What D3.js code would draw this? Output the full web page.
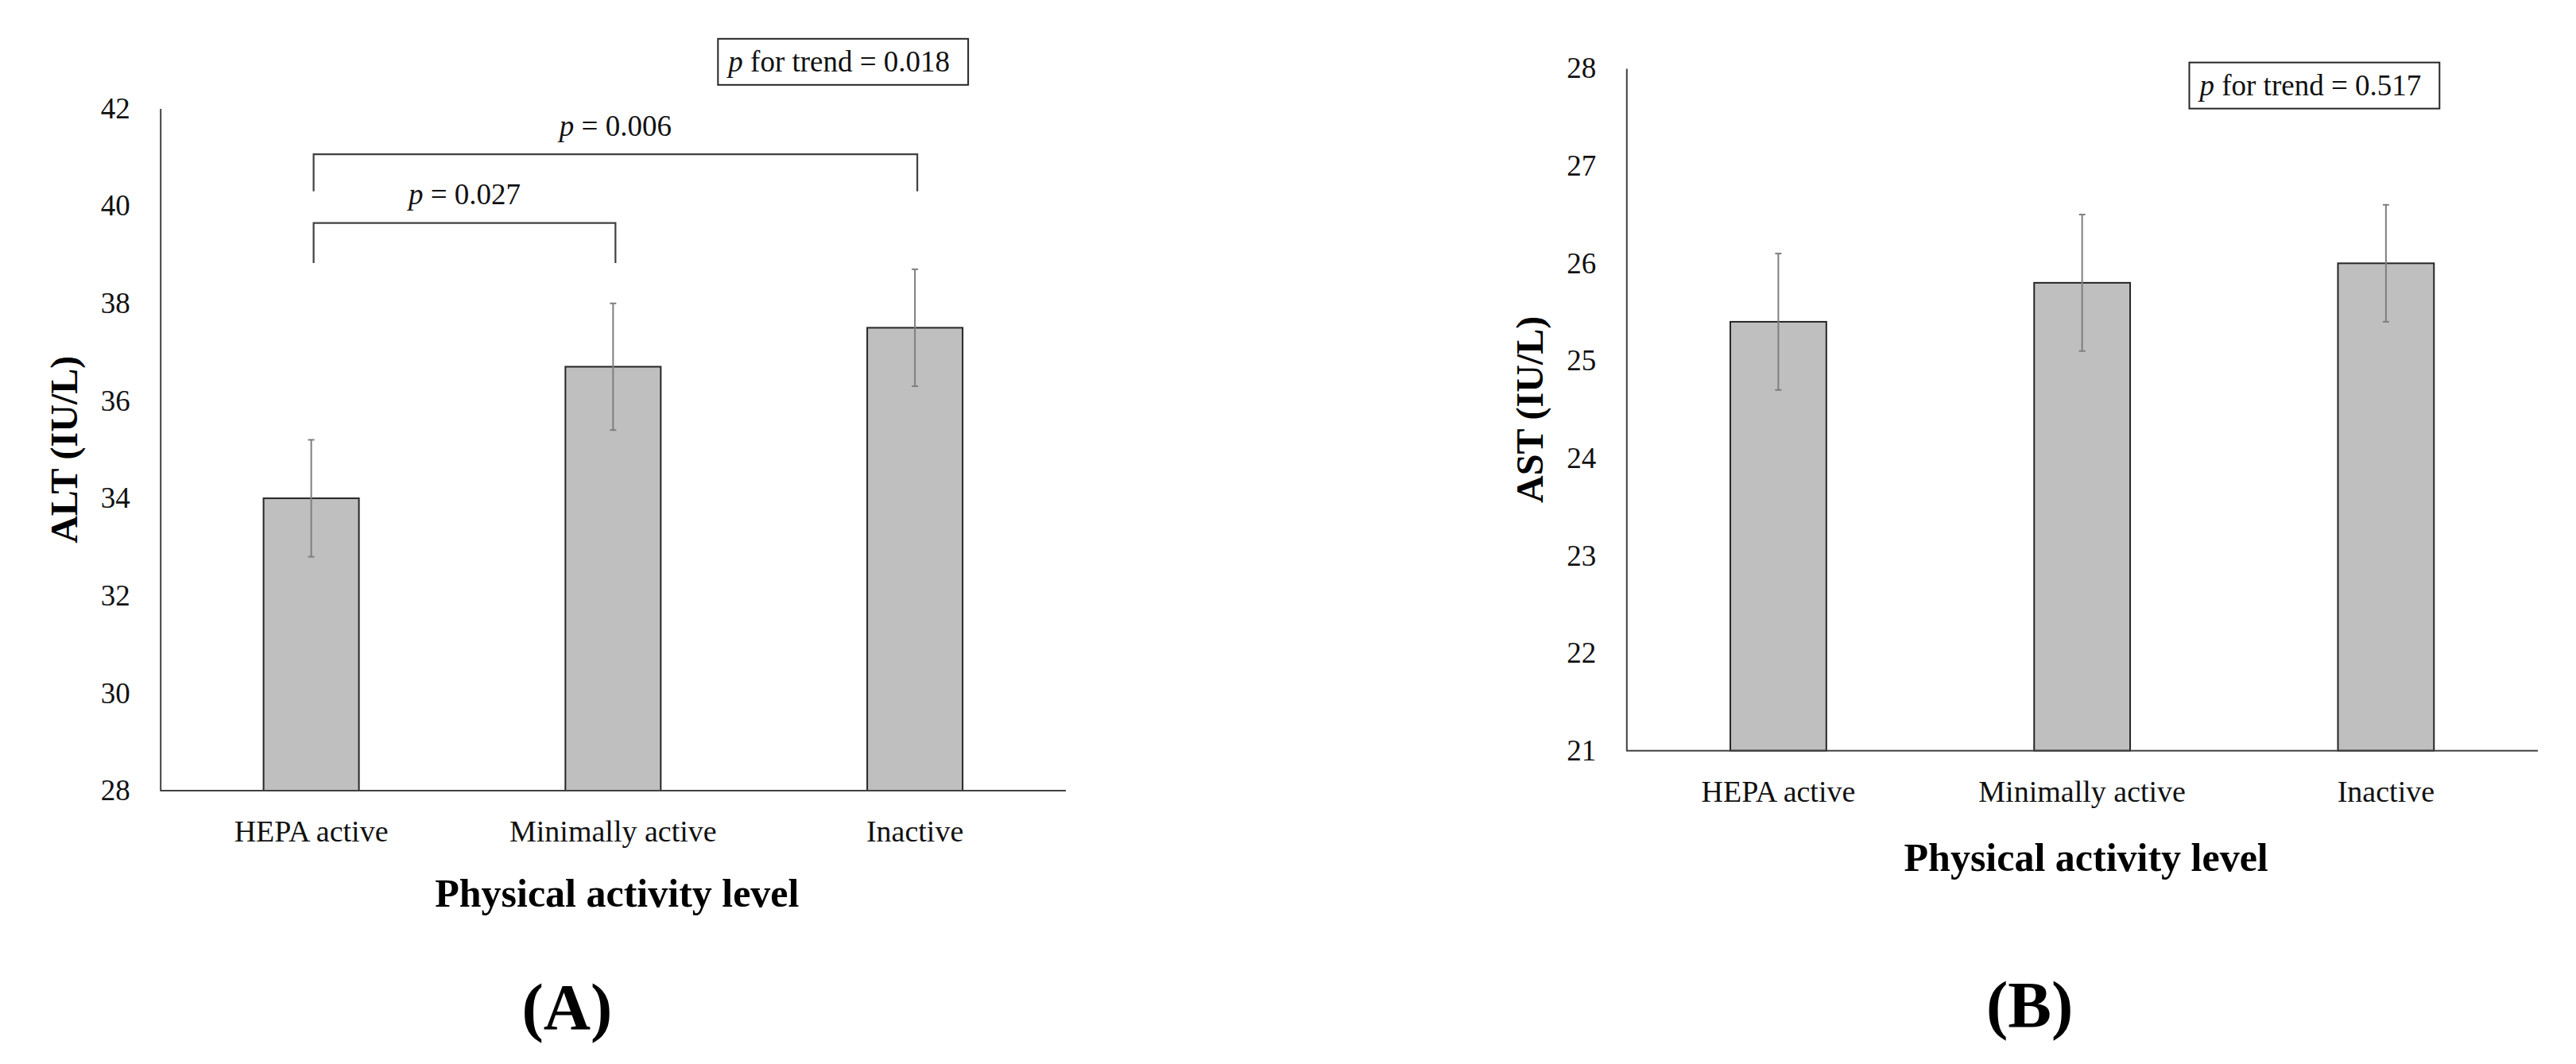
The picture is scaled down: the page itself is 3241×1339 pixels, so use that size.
<!DOCTYPE html>
<html>
<head>
<meta charset="utf-8">
<script src="https://cdn.jsdelivr.net/npm/d3@7"></script>
<style>
  body { margin: 0; background: #fff; }
  text { font-family: "Liberation Serif", "Times New Roman", serif; }
</style>
</head>
<body>
<svg id="chart"></svg>
<script>
"use strict";

// data
var categories = ["HEPA active", "Minimally active", "Inactive"];

var altMean = [34.0, 36.7, 37.5];
var altErr  = [1.2, 1.3, 1.2];
var altTicks = [28, 30, 32, 34, 36, 38, 40, 42];

var astMean = [25.4, 25.8, 26.0];
var astErr  = [0.7, 0.7, 0.6];
var astTicks = [21, 22, 23, 24, 25, 26, 27, 28];

// pairwise comparisons shown on panel A
var altPairs = [
  { from: 0, to: 1, level: 39.65, drop: 38.83, label: "= 0.027", labelAt: 40.03 },
  { from: 0, to: 2, level: 41.06, drop: 40.30, label: "= 0.006", labelAt: 41.43 }
];

var altTrend = "for trend = 0.018";
var astTrend = "for trend = 0.517";

var W = 3241, H = 1339;

var svg = d3.select("#chart")
    .attr("width", W)
    .attr("height", H)
    .attr("viewBox", [0, 0, W, H]);

svg.append("rect").attr("width", W).attr("height", H).attr("fill", "#fff");

function Panel(opts) {
  var g = svg.append("g");

  var x = d3.scaleBand()
      .domain(categories)
      .range([opts.left, opts.right])
      .paddingInner(0.684)
      .paddingOuter(0.342);

  var y = d3.scaleLinear()
      .domain(d3.extent(opts.ticks))
      .range([opts.bottom, opts.top]);

  var rows = categories.map(function(c, i) {
    return { cat: c, mean: opts.mean[i], err: opts.err[i] };
  });

  // bars
  g.selectAll("rect.bar")
    .data(rows)
    .join("rect")
      .attr("class", "bar")
      .attr("x", d => x(d.cat))
      .attr("width", x.bandwidth())
      .attr("y", d => y(d.mean))
      .attr("height", d => y(opts.ticks[0]) - y(d.mean))
      .attr("fill", "#bfbfbf")
      .attr("stroke", "#262626")
      .attr("stroke-width", 2);

  // error bars
  var eb = g.selectAll("g.err")
    .data(rows)
    .join("g")
      .attr("class", "err")
      .attr("stroke", "#7f7f7f")
      .attr("stroke-width", 2)
      .attr("transform", d => `translate(${x(d.cat) + x.bandwidth() / 2},0)`);
  eb.append("line")
      .attr("y1", d => y(d.mean - d.err))
      .attr("y2", d => y(d.mean + d.err));
  eb.append("line")
      .attr("x1", -4).attr("x2", 4)
      .attr("y1", d => y(d.mean + d.err))
      .attr("y2", d => y(d.mean + d.err));
  eb.append("line")
      .attr("x1", -4).attr("x2", 4)
      .attr("y1", d => y(d.mean - d.err))
      .attr("y2", d => y(d.mean - d.err));

  // axes
  var yAxis = g.append("g")
      .attr("transform", `translate(${opts.left},0)`)
      .call(d3.axisLeft(y).tickValues(opts.ticks).tickFormat(d3.format("d"))
        .tickSize(0).tickPadding(38));
  yAxis.select(".domain").attr("stroke", "#404040").attr("stroke-width", 2);
  yAxis.selectAll("text")
      .attr("font-size", 37)
      .attr("fill", "#111")
      .attr("dy", "0.32em")
      .style("font-family", "'Liberation Serif', serif");

  var xAxis = g.append("g")
      .attr("transform", `translate(0,${opts.bottom})`)
      .call(d3.axisBottom(x).tickSize(0).tickPadding(0));
  xAxis.select(".domain")
      .attr("d", `M${opts.left},0H${opts.right}`)
      .attr("stroke", "#404040").attr("stroke-width", 2);
  xAxis.selectAll("text")
      .attr("font-size", 38)
      .attr("fill", "#111")
      .attr("y", 64)
      .attr("dy", 0)
      .style("font-family", "'Liberation Serif', serif");

  // axis titles
  g.append("text")
      .attr("transform", `translate(${opts.left - 105},${(opts.top + opts.bottom) / 2}) rotate(-90)`)
      .attr("text-anchor", "middle")
      .attr("font-size", 48)
      .attr("font-weight", "bold")
      .text(opts.yTitle);

  g.append("text")
      .attr("x", (opts.left + opts.right) / 2 + 5)
      .attr("y", opts.bottom + opts.titleGap)
      .attr("text-anchor", "middle")
      .attr("font-size", 50)
      .attr("font-weight", "bold")
      .text("Physical activity level");

  g.append("text")
      .attr("x", (opts.left + opts.right) / 2 + opts.tagShift)
      .attr("y", opts.tagY)
      .attr("text-anchor", "middle")
      .attr("font-size", 82)
      .attr("font-weight", "bold")
      .text(opts.tag);

  // comparison brackets
  var cx = c => x(categories[c]) + x.bandwidth() / 2 + 3;
  var br = g.selectAll("g.pair")
    .data(opts.pairs || [])
    .join("g")
      .attr("class", "pair");
  br.append("path")
      .attr("d", d => `M${cx(d.from)},${y(d.drop)}V${y(d.level)}H${cx(d.to)}V${y(d.drop)}`)
      .attr("fill", "none")
      .attr("stroke", "#404040")
      .attr("stroke-width", 2.2);
  var bt = br.append("text")
      .attr("x", d => (cx(d.from) + cx(d.to)) / 2)
      .attr("y", d => y(d.labelAt))
      .attr("text-anchor", "middle")
      .attr("font-size", 37)
      .attr("fill", "#111");
  bt.append("tspan").attr("font-style", "italic").text("p");
  bt.append("tspan").text(d => " " + d.label);

  // p for trend box
  var bx = g.append("g");
  var tt = bx.append("text")
      .attr("font-size", 37)
      .attr("fill", "#111");
  tt.append("tspan").attr("font-style", "italic").text("p");
  tt.append("tspan").text(" " + opts.trend);
  var tw = tt.node().getComputedTextLength();
  var boxW = tw + 36, boxH = 58;
  var boxRight = x(categories[2]) + x.bandwidth() + 7;
  var boxTop = y(opts.trendTop);
  bx.insert("rect", "text")
      .attr("x", boxRight - boxW)
      .attr("y", boxTop)
      .attr("width", boxW)
      .attr("height", boxH)
      .attr("fill", "#fff")
      .attr("stroke", "#262626")
      .attr("stroke-width", 2);
  tt.attr("x", boxRight - boxW + 13).attr("y", boxTop + 41);

  return g;
}

Panel({
  left: 201.7, right: 1341, top: 136.5, bottom: 995,
  ticks: altTicks, mean: altMean, err: altErr,
  yTitle: "ALT (IU/L)", titleGap: 146, tag: "(A)", tagShift: -58, tagY: 1295,
  pairs: altPairs, trend: altTrend, trendTop: 43.43
});

Panel({
  left: 2046.3, right: 3193, top: 86, bottom: 944.7,
  ticks: astTicks, mean: astMean, err: astErr,
  yTitle: "AST (IU/L)", titleGap: 151, tag: "(B)", tagShift: -66, tagY: 1292,
  pairs: [], trend: astTrend, trendTop: 28.06
});
</script>
</body>
</html>
